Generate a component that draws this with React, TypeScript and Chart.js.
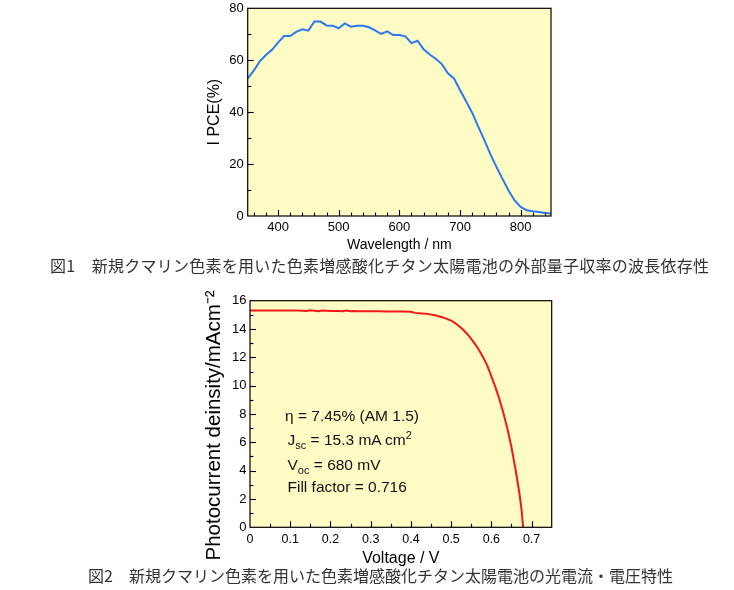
import React, { useEffect, useRef } from "react";
import { Chart, registerables } from "chart.js";

Chart.register(...registerables);

// ---------- Figure 1: IPCE vs wavelength ----------
const wavelengthNm = [
  350, 360, 370, 380, 390, 400, 410, 420, 430, 440, 450, 460, 470, 480, 490, 500,
  510, 520, 530, 540, 550, 560, 570, 580, 590, 600, 610, 620, 630, 640, 650, 660,
  670, 680, 690, 700, 710, 720, 730, 740, 750, 760, 770, 780, 790, 800, 810, 820,
  830, 840, 850,
];
const ipcePercent = [
  53.0, 56.0, 59.6, 62.0, 64.0, 66.8, 69.3, 69.3, 70.9, 71.9, 71.4, 74.9, 74.9, 73.4, 73.3, 72.3,
  74.2, 72.9, 73.3, 73.3, 72.7, 71.5, 70.1, 71.1, 69.7, 69.7, 69.2, 66.6, 67.5, 64.2, 62.2, 60.6,
  58.5, 55.0, 53.0, 48.5, 44.2, 39.8, 34.4, 29.3, 23.8, 18.9, 14.3, 9.8, 6.0, 3.5, 2.2, 1.8,
  1.5, 1.2, 1.0,
];
const ipceXLabels = [400, 500, 600, 700, 800];
const ipceYLabels = [0, 20, 40, 60, 80];

// ---------- Figure 2: J-V curve ----------
const voltageV = [
  0, 0.02, 0.04, 0.06, 0.08, 0.1, 0.12, 0.14, 0.15, 0.16, 0.17, 0.18, 0.2, 0.22, 0.23, 0.24,
  0.25, 0.26, 0.27, 0.28, 0.3, 0.32, 0.34, 0.36, 0.38, 0.4, 0.41, 0.42, 0.44, 0.46, 0.48, 0.5,
  0.51, 0.52, 0.53, 0.54, 0.55, 0.56, 0.57, 0.58, 0.59, 0.6, 0.61, 0.62, 0.63, 0.64, 0.65, 0.66,
  0.67, 0.675, 0.679,
];
const currentDensity = [
  15.3, 15.3, 15.3, 15.3, 15.3, 15.3, 15.3, 15.27, 15.32, 15.29, 15.25, 15.3, 15.28, 15.27, 15.25, 15.31,
  15.26, 15.28, 15.25, 15.26, 15.25, 15.25, 15.24, 15.24, 15.23, 15.22, 15.14, 15.12, 15.07, 14.97, 14.82, 14.6,
  14.42, 14.2, 13.95, 13.65, 13.3, 12.92, 12.48, 11.98, 11.42, 10.65, 9.9, 9.05, 8.05, 6.95, 5.65, 4.1,
  2.35, 1.25, 0,
];
const jvXLabels = [0, 0.1, 0.2, 0.3, 0.4, 0.5, 0.6, 0.7];
const jvYLabels = [0, 2, 4, 6, 8, 10, 12, 14, 16];

const FONT = '"Liberation Sans", Arial, Helvetica, sans-serif';
const PLOT_BG = "#fffbc4";

const near = (a: number, b: number) => Math.abs(a - b) < 1e-6;
const inList = (list: number[], v: number) => list.some((x) => near(x, v));
const isMultiple = (v: number, step: number) => near(Math.round(v / step) * step, v);

function makeFramePlugin(
  xMajor: number[],
  yMajor: number[],
  xMinorStep: number,
  yMinorStep: number
) {
  return {
    id: "frameTicks",
    beforeDraw(chart: any) {
      const { ctx, chartArea: a } = chart;
      ctx.save();
      ctx.fillStyle = PLOT_BG;
      ctx.fillRect(a.left, a.top, a.right - a.left, a.bottom - a.top);
      ctx.restore();
    },
    afterDatasetsDraw(chart: any) {
      const { ctx, chartArea: a, scales } = chart;
      ctx.save();
      ctx.strokeStyle = "#000";
      ctx.lineWidth = 1.2;
      ctx.strokeRect(a.left, a.top, a.right - a.left, a.bottom - a.top);
      const xs = scales.x;
      const ys = scales.y;
      ctx.lineWidth = 1.1;
      xs.ticks.forEach((t: any) => {
        if (t.value <= xs.min + 1e-9 || t.value >= xs.max - 1e-9) return;
        const major = inList(xMajor, t.value);
        if (!major && !isMultiple(t.value, xMinorStep)) return;
        const px = Math.round(xs.getPixelForValue(t.value)) + 0.5;
        const len = major ? 6 : 3.5;
        ctx.beginPath();
        ctx.moveTo(px, a.bottom);
        ctx.lineTo(px, a.bottom - len);
        ctx.stroke();
      });
      ys.ticks.forEach((t: any) => {
        if (t.value <= ys.min + 1e-9 || t.value >= ys.max - 1e-9) return;
        const major = inList(yMajor, t.value);
        if (!major && !isMultiple(t.value, yMinorStep)) return;
        const py = Math.round(ys.getPixelForValue(t.value)) + 0.5;
        const len = major ? 6 : 3.5;
        ctx.beginPath();
        ctx.moveTo(a.left, py);
        ctx.lineTo(a.left + len, py);
        ctx.stroke();
      });
      ctx.restore();
    },
  };
}

function fixSize(prop: "width" | "height", size: number) {
  return (s: any) => {
    s[prop] = size;
    s.paddingTop = 0;
    s.paddingBottom = 0;
    s.paddingLeft = 0;
    s.paddingRight = 0;
  };
}

function ipceConfig(): any {
  return {
    type: "line",
    data: {
      datasets: [
        {
          data: wavelengthNm.map((x, i) => ({ x, y: ipcePercent[i] })),
          borderColor: "#2a78f2",
          borderWidth: 2,
          pointRadius: 0,
          tension: 0,
          fill: false,
        },
      ],
    },
    options: {
      animation: false,
      responsive: false,
      events: [],
      layout: { padding: { left: 200, top: 8.3, right: 183, bottom: 0 } },
      plugins: { legend: { display: false }, tooltip: { enabled: false } },
      scales: {
        x: {
          type: "linear",
          min: 350,
          max: 850,
          afterFit: fixSize("height", 40),
          grid: { display: false, drawTicks: false },
          border: { display: false },
          ticks: {
            stepSize: 10,
            autoSkip: false,
            maxRotation: 0,
            padding: 4,
            color: "#000",
            font: { family: FONT, size: 13 },
            callback: (v: number) => (inList(ipceXLabels, v) ? String(v) : ""),
          },
          title: {
            display: true,
            text: "Wavelength / nm",
            color: "#000",
            font: { family: FONT, size: 14 },
            padding: { top: 0, bottom: 2 },
          },
        },
        y: {
          type: "linear",
          min: 0,
          max: 80,
          afterFit: fixSize("width", 47.7),
          grid: { display: false, drawTicks: false },
          border: { display: false },
          ticks: {
            stepSize: 10,
            autoSkip: false,
            padding: 4,
            color: "#000",
            font: { family: FONT, size: 13 },
            callback: (v: number) => (inList(ipceYLabels, v) ? String(v) : ""),
          },
          title: {
            display: true,
            text: "I PCE(%)",
            color: "#000",
            font: { family: FONT, size: 16 },
            padding: { top: 5.4, bottom: 0 },
          },
        },
      },
    },
    plugins: [makeFramePlugin(ipceXLabels, ipceYLabels, 20, 10)],
  };
}

function jvConfig(): any {
  return {
    type: "line",
    data: {
      datasets: [
        {
          data: voltageV.map((x, i) => ({ x, y: currentDensity[i] })),
          borderColor: "#f21818",
          borderWidth: 2,
          pointRadius: 0,
          tension: 0,
          fill: false,
        },
      ],
    },
    options: {
      animation: false,
      responsive: false,
      events: [],
      layout: { padding: { left: 200, top: 20.7, right: 182.3, bottom: 0 } },
      plugins: { legend: { display: false }, tooltip: { enabled: false } },
      scales: {
        x: {
          type: "linear",
          min: 0,
          max: 0.75,
          afterFit: fixSize("height", 44.7),
          grid: { display: false, drawTicks: false },
          border: { display: false },
          ticks: {
            stepSize: 0.05,
            autoSkip: false,
            maxRotation: 0,
            padding: 5,
            color: "#000",
            font: { family: FONT, size: 12.5 },
            callback: (v: number) =>
              inList(jvXLabels, v) ? String(Math.round(v * 10) / 10) : "",
          },
          title: {
            display: true,
            text: "Voltage / V",
            color: "#000",
            font: { family: FONT, size: 16 },
            padding: { top: 0, bottom: 3.4 },
          },
        },
        y: {
          type: "linear",
          min: 0,
          max: 16,
          afterFit: fixSize("width", 50),
          grid: { display: false, drawTicks: false },
          border: { display: false },
          ticks: {
            stepSize: 1,
            autoSkip: false,
            padding: 3.5,
            color: "#000",
            font: { family: FONT, size: 13 },
            callback: (v: number) => (inList(jvYLabels, v) ? String(v) : ""),
          },
          title: {
            display: true,
            text: "Photocurrent deinsity/mAcm\u207B\u00B2    ",
            color: "#000",
            font: { family: FONT, size: 20.5 },
            padding: { top: 2.2, bottom: 0 },
          },
        },
      },
    },
    plugins: [makeFramePlugin(jvXLabels, jvYLabels, 0.05, 1)],
  };
}

function ChartCanvas(props: { make: () => any; top: number; width: number; height: number }) {
  const ref = useRef<HTMLCanvasElement>(null);
  useEffect(() => {
    const chart = new Chart(ref.current as HTMLCanvasElement, props.make());
    return () => chart.destroy();
  }, []);
  return (
    <canvas
      ref={ref}
      width={props.width}
      height={props.height}
      style={{ position: "absolute", left: 0, top: props.top, width: props.width, height: props.height }}
    />
  );
}

const annoStyle: React.CSSProperties = {
  position: "absolute",
  font: `15.5px ${FONT}`,
  lineHeight: "18px",
  color: "#111",
  whiteSpace: "nowrap",
};
const subStyle: React.CSSProperties = { fontSize: "11px", verticalAlign: "-4px", lineHeight: 0 };
const supStyle: React.CSSProperties = { fontSize: "11px", verticalAlign: "6px", lineHeight: 0 };

const captionStyle: React.CSSProperties = {
  position: "absolute",
  font: '16px "Noto Sans CJK JP", sans-serif',
  lineHeight: "20px",
  color: "#333",
  whiteSpace: "nowrap",
};

export default function App() {
  return (
    <div style={{ position: "absolute", left: 0, top: 0, width: 734, height: 590, background: "#fff", overflow: "hidden" }}>
      <ChartCanvas make={ipceConfig} top={0} width={734} height={256} />
      <div style={{ ...captionStyle, left: 50, top: 255, letterSpacing: "0.25px" }}>
        図1　新規クマリン色素を用いた色素増感酸化チタン太陽電池の外部量子収率の波長依存性
      </div>
      <ChartCanvas make={jvConfig} top={280} width={734} height={292} />
      <div style={{ ...annoStyle, left: 285, top: 407 }}>η = 7.45% (AM 1.5)</div>
      <div style={{ ...annoStyle, left: 287.5, top: 430.5 }}>
        J<span style={subStyle}>sc</span> = 15.3 mA cm<span style={supStyle}>2</span>
      </div>
      <div style={{ ...annoStyle, left: 287.5, top: 456 }}>
        V<span style={subStyle}>oc</span> = 680 mV
      </div>
      <div style={{ ...annoStyle, left: 287.5, top: 478 }}>Fill factor = 0.716</div>
      <div style={{ ...captionStyle, left: 88, top: 565 }}>
        図2　新規クマリン色素を用いた色素増感酸化チタン太陽電池の光電流・電圧特性
      </div>
    </div>
  );
}
